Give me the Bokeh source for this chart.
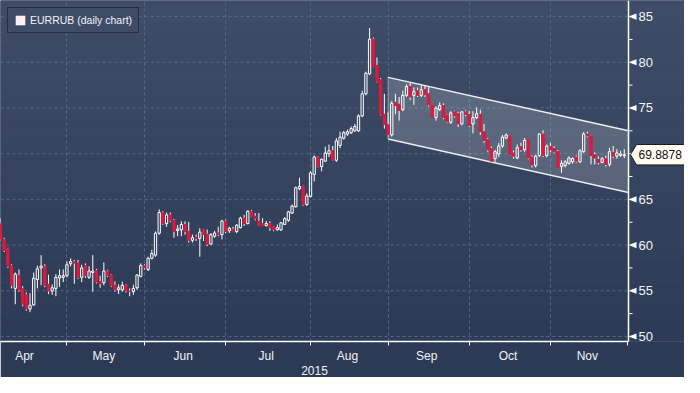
import numpy as np
from bokeh.plotting import figure
from bokeh.models import Range1d, FixedTicker, Span, Legend, LegendItem, LinearAxis
from bokeh.core.properties import value
from bokeh.embed import file_html
from bokeh.resources import INLINE

# ---------------- data (EURRUB daily candles, trading-day index 0 = 7 Apr 2015) ----------------
opens = [62.35, 60.62, 59.58, 57.75, 55.26, 56.65, 55.26, 54.57, 53.0, 53.46,
         56.23, 57.5, 57.68, 55.7, 54.98, 55.26, 56.4, 56.47, 56.65, 57.96,
         58.17, 58.03, 56.47, 57.75, 56.47, 57.0, 57.23, 56.02, 55.88, 57.16,
         56.7, 55.6, 55.12, 55.12, 55.6, 54.98, 54.91, 55.33, 56.58, 57.75,
         57.33, 58.55, 58.9, 61.3, 63.56, 62.35, 63.3, 62.7, 61.6, 61.66,
         62.25, 61.49, 60.52, 60.87, 60.73, 61.66, 61.2, 60.1, 60.97, 61.32,
         61.15, 62.63, 61.56, 61.73, 61.49, 61.9, 62.95, 62.36, 63.7, 63.15,
         62.6, 62.36, 62.12, 62.36, 62.0, 61.66, 61.66, 62.26, 62.71, 63.5,
         64.2, 66.17, 66.41, 64.44, 65.3, 67.73, 69.63, 68.59, 69.18, 69.98,
         70.32, 69.28, 70.91, 71.7, 72.15, 72.29, 72.5, 72.5, 74.13, 76.55,
         78.73, 82.53, 79.66, 78.1, 74.3, 73.16, 72.05, 75.61, 75.41, 74.82,
         76.38, 77.35, 76.38, 76.9, 76.38, 77.0, 76.55, 75.34, 73.95, 74.82,
         75.27, 74.23, 73.43, 74.58, 74.37, 73.26, 74.58, 74.3, 73.26, 73.95,
         74.3, 72.4, 71.53, 70.56, 69.46, 69.97, 70.84, 71.7, 71.95, 70.08,
         69.53, 70.77, 70.42, 71.53, 69.63, 68.7, 69.8, 72.15, 69.8, 70.77,
         70.56, 70.22, 68.59, 68.7, 68.94, 69.11, 69.63, 69.11, 70.22, 72.15,
         71.95, 69.87, 69.38, 69.04, 69.45, 68.83, 70.15, 69.73, 69.8, 69.8]
highs = [62.94, 60.8, 59.7, 57.9, 57.0, 57.33, 55.5, 54.8, 54.74, 56.99,
         57.75, 58.9, 57.9, 56.75, 55.7, 56.82, 57.33, 57.33, 58.2, 58.55,
         58.37, 58.37, 57.85, 58.0, 57.68, 58.9, 57.4, 56.65, 58.1, 57.3,
         56.8, 56.02, 55.7, 56.0, 55.7, 55.26, 55.67, 56.82, 58.0, 57.9,
         58.72, 59.48, 61.49, 63.91, 63.7, 63.56, 63.56, 62.87, 62.2, 62.6,
         62.6, 62.53, 61.15, 61.15, 61.84, 61.77, 61.7, 61.3, 61.56, 62.0,
         62.77, 62.8, 62.0, 62.0, 62.3, 63.1, 63.3, 63.8, 63.85, 63.5,
         63.5, 62.95, 62.63, 62.6, 62.1, 62.25, 62.53, 63.05, 63.75, 64.44,
         66.41, 67.38, 66.5, 65.65, 68.07, 69.8, 69.7, 69.46, 70.77, 71.0,
         70.84, 71.7, 72.4, 72.5, 72.64, 72.98, 73.26, 74.3, 76.9, 78.97,
         83.75, 82.7, 80.53, 78.28, 76.55, 74.5, 75.75, 76.55, 76.2, 76.9,
         77.59, 77.76, 77.24, 77.24, 77.48, 77.41, 77.35, 75.41, 75.17, 75.61,
         75.51, 74.3, 74.65, 74.7, 74.58, 74.65, 74.75, 74.65, 74.65, 75.06,
         74.82, 73.26, 71.7, 70.77, 70.42, 71.19, 72.05, 72.22, 72.05, 70.32,
         71.0, 71.19, 71.7, 71.6, 69.8, 69.87, 72.22, 72.57, 71.0, 71.19,
         70.8, 70.4, 69.28, 69.3, 69.7, 69.6, 69.8, 70.5, 72.35, 72.4,
         72.05, 70.15, 69.7, 69.63, 69.8, 70.66, 70.84, 70.5, 70.32, 70.5]
lows = [60.5, 59.24, 57.5, 55.26, 53.53, 54.9, 53.3, 52.8, 52.66, 53.35,
        55.26, 55.6, 55.4, 54.64, 54.57, 54.4, 55.43, 55.95, 56.47, 57.68,
        55.78, 56.3, 55.95, 56.4, 56.3, 54.9, 55.8, 55.33, 55.6, 56.5,
        55.4, 54.9, 54.64, 54.9, 54.8, 54.4, 54.57, 55.09, 56.47, 57.3,
        57.16, 58.44, 58.72, 61.14, 62.2, 62.0, 62.5, 60.8, 60.97, 60.97,
        61.15, 60.28, 60.28, 60.45, 58.72, 60.45, 59.9, 60.04, 60.8, 60.97,
        60.63, 61.3, 61.32, 61.42, 61.3, 61.84, 62.1, 62.25, 63.05, 62.7,
        62.1, 62.1, 62.05, 61.56, 61.5, 61.6, 61.56, 62.19, 62.54, 63.4,
        64.09, 66.0, 64.3, 64.27, 65.23, 66.96, 68.5, 68.07, 69.11, 69.63,
        69.2, 69.11, 70.6, 71.53, 71.95, 72.15, 72.4, 72.4, 74.0, 76.38,
        78.6, 79.5, 77.8, 74.13, 72.74, 71.88, 71.88, 74.3, 73.61, 74.65,
        76.2, 75.86, 75.34, 76.2, 76.2, 76.2, 75.17, 73.9, 73.61, 74.65,
        73.78, 73.4, 73.26, 73.95, 72.91, 73.09, 74.1, 72.91, 72.22, 73.78,
        72.05, 71.19, 70.22, 69.11, 69.11, 69.63, 70.66, 71.6, 69.8, 69.46,
        69.39, 70.22, 70.22, 69.39, 68.49, 68.49, 69.63, 69.63, 69.6, 70.15,
        70.1, 68.42, 67.9, 68.5, 68.8, 68.9, 69.0, 69.0, 70.1, 71.8,
        68.83, 68.83, 68.83, 68.94, 68.59, 68.59, 69.52, 69.45, 69.63, 69.52]
closes = [60.62, 59.41, 57.68, 55.6, 56.82, 55.09, 53.53, 53.0, 53.42, 56.37,
          57.4, 57.7, 55.6, 54.98, 55.33, 56.47, 56.65, 56.65, 57.85, 58.2,
          58.03, 56.47, 57.5, 56.65, 57.16, 57.16, 55.95, 55.78, 57.16, 56.65,
          55.54, 55.09, 55.33, 55.6, 54.98, 54.91, 55.26, 56.72, 57.75, 57.5,
          58.55, 59.07, 61.3, 63.56, 62.35, 63.3, 62.7, 61.49, 61.77, 62.25,
          61.49, 60.52, 60.8, 60.73, 61.42, 61.15, 60.1, 61.15, 61.32, 61.15,
          62.63, 61.49, 61.84, 61.49, 62.18, 62.95, 62.36, 63.7, 63.15, 62.88,
          62.18, 62.12, 62.36, 61.9, 61.66, 61.9, 62.43, 62.88, 63.64, 64.27,
          66.27, 66.41, 64.44, 65.37, 67.9, 69.63, 68.59, 69.39, 70.08, 70.32,
          69.28, 71.4, 71.81, 72.29, 72.4, 72.74, 72.98, 74.13, 76.55, 78.8,
          82.53, 79.56, 77.93, 74.23, 73.19, 72.05, 75.51, 75.27, 74.72, 76.38,
          77.35, 76.2, 76.79, 76.38, 77.0, 76.45, 75.34, 73.95, 74.99, 75.27,
          73.95, 73.54, 74.47, 74.13, 73.26, 74.58, 74.3, 73.09, 73.95, 74.37,
          72.4, 71.46, 70.42, 69.18, 70.22, 70.84, 71.81, 72.05, 69.87, 69.73,
          70.66, 70.42, 71.46, 69.53, 68.76, 69.73, 72.15, 69.8, 70.84, 70.42,
          70.22, 68.49, 68.94, 69.11, 69.53, 69.46, 69.18, 70.32, 72.15, 71.95,
          69.8, 69.52, 69.04, 69.45, 68.83, 70.22, 69.73, 70.08, 69.97, 69.8878]

months = ["Apr", "May", "Jun", "Jul", "Aug", "Sep", "Oct", "Nov"]
month_first = [-4, 18, 39, 61, 84, 105, 127, 149]   # index of first trading day
month_last = [17, 38, 60, 83, 104, 126, 148, 169]   # index of last trading day
dec_first = 170
year_label = "2015"

y_ticks = [50, 55, 60, 65, 70, 75, 80, 85]
y_minor = [52.5, 57.5, 62.5, 67.5, 72.5, 77.5, 82.5]
last_price = 69.8878
series_name = "EURRUB (daily chart)"

channel_x = [105, 170.15]
channel_top = [78.35, 72.5]
channel_bottom = [71.6, 65.75]

# ---------------- layout ----------------
W, H = 684, 377
RIGHT_PANEL = 56
AXIS_END = 170.15
Y_MIN, Y_MAX = 49.45, 86.76
ppx = (W - RIGHT_PANEL) / AXIS_END
X_END = W / ppx
FRAME_H = 334
ppy = FRAME_H / (Y_MAX - Y_MIN)

RED = "#dc1a3e"
TXT = "#f2f4f8"
GRID = "#4d6a86"
FONT = "Liberation Sans"

p = figure(width=W, height=H, output_backend="svg", toolbar_location=None,
           x_range=Range1d(0, X_END), y_range=Range1d(Y_MIN, Y_MAX),
           y_axis_location=None, min_border_left=0, min_border_right=0,
           min_border_top=0, min_border_bottom=0)
p.outline_line_color = None
p.background_fill_color = "#36445f"
p.border_fill_color = "#2c3a55"

# background gradient bands
n = 30
edges = np.linspace(Y_MIN, Y_MAX, n + 1)
c0 = np.array([0x2d, 0x3b, 0x56])
c1 = np.array([0x3f, 0x4d, 0x68])
cols = []
for k in range(n):
    t = (k + 0.5) / n
    cc = (c0 + (c1 - c0) * t).astype(int)
    cols.append("#%02x%02x%02x" % tuple(cc))
p.quad(left=0, right=X_END, bottom=edges[:-1], top=edges[1:], fill_color=cols,
       line_color=cols, line_width=1, level="image")

# grids
p.ygrid.grid_line_color = None
p.xgrid.ticker = FixedTicker(ticks=month_first[1:])
p.xgrid.grid_line_color = GRID
p.xgrid.grid_line_dash = "3 3"
p.segment(x0=0, x1=AXIS_END, y0=y_ticks, y1=y_ticks, line_color=GRID,
          line_dash="3 3", line_width=1)

# channel
p.patch(x=[channel_x[0], channel_x[1], channel_x[1], channel_x[0]],
        y=[channel_top[0], channel_top[1], channel_bottom[1], channel_bottom[0]],
        fill_color="white", fill_alpha=0.18, line_color=None)
p.segment(x0=[channel_x[0]] * 2, x1=[channel_x[1]] * 2,
          y0=[channel_top[0], channel_bottom[0]], y1=[channel_top[1], channel_bottom[1]],
          line_color="white", line_width=1.5, line_alpha=0.9)
p.segment(x0=[channel_x[0]], x1=[channel_x[0]], y0=[channel_bottom[0]], y1=[channel_top[0]],
          line_color="white", line_alpha=0.35, line_width=1)

# candles
o = np.array(opens); h = np.array(highs); l = np.array(lows); c = np.array(closes)
x = np.arange(len(o))
top = np.maximum(o, c); bot = np.minimum(o, c)
up = c >= o
dn = ~up
p.segment(x0=x, x1=x, y0=top, y1=h, line_color="white", line_width=1)
p.segment(x0=x, x1=x, y0=l, y1=bot, line_color="white", line_width=1)
p.vbar(x=x[up], width=0.62, top=top[up], bottom=bot[up], fill_alpha=0,
       line_color="white", line_width=1)
p.vbar(x=x[dn], width=0.62, top=top[dn], bottom=bot[dn], fill_color=RED,
       line_color=RED, line_width=1)

# bottom axis with month labels
centers = [(a + b) / 2 for a, b in zip(month_first, month_last)]
ax = p.xaxis[0]
ax.bounds = (0, AXIS_END)
ax.ticker = FixedTicker(ticks=centers, minor_ticks=month_first + [dec_first])
ax.major_label_overrides = {cc: m for cc, m in zip(centers, months)}
ax.axis_line_color = "white"
ax.axis_line_width = 1.5
ax.major_tick_line_color = None
ax.major_tick_in = 0
ax.major_tick_out = 0
ax.minor_tick_line_color = "white"
ax.minor_tick_in = 0
ax.minor_tick_out = 4
ax.major_label_standoff = 3
ax.major_label_text_color = TXT
ax.major_label_text_font = FONT
ax.major_label_text_font_size = "12px"

# year label: second axis below, centred under the drawn axis extent
year_pos = AXIS_END / 2
ax2 = LinearAxis(ticker=FixedTicker(ticks=[year_pos]),
                 major_label_overrides={year_pos: year_label},
                 axis_line_color=None, major_tick_line_color=None,
                 minor_tick_line_color=None, major_tick_in=0, major_tick_out=0,
                 major_label_standoff=0, major_label_text_color=TXT,
                 major_label_text_font=FONT, major_label_text_font_size="12px")
p.add_layout(ax2, "below")

# right value axis (drawn in the frame's right panel)
p.add_layout(Span(location=AXIS_END, dimension="height", line_color="white", line_width=1.5))
tw, th = 8 / ppx, 3 / ppy
p.patches(xs=[[AXIS_END, AXIS_END + tw, AXIS_END + tw] for v in y_ticks],
          ys=[[v, v + th, v - th] for v in y_ticks], fill_color="white", line_color=None)
p.segment(x0=AXIS_END, x1=AXIS_END + 4 / ppx, y0=y_minor, y1=y_minor,
          line_color="white", line_width=1)
p.text(x=[AXIS_END] * len(y_ticks), y=y_ticks, text=[str(v) for v in y_ticks],
       x_offset=10, text_baseline="middle", text_align="left", text_color=TXT,
       text_font=value(FONT), text_font_size=value("13px"))

# last-price callout
hh = 10 / ppy
p.patch(x=[AXIS_END + 2 / ppx, AXIS_END + 8 / ppx, X_END + 1, X_END + 1, AXIS_END + 8 / ppx],
        y=[last_price, last_price + hh, last_price + hh, last_price - hh, last_price - hh],
        fill_color="#fffcf3", line_color="#1a1a1a", line_width=1)
p.text(x=[AXIS_END], y=[last_price], text=["%.4f" % last_price], x_offset=10,
       text_baseline="middle", text_align="left", text_color="#111111",
       text_font=value(FONT), text_font_size=value("12px"))

# legend
dummy = p.quad(left=[np.nan], right=[np.nan], top=[np.nan], bottom=[np.nan],
               fill_color="#fff1ee", line_color=None)
legend = Legend(items=[LegendItem(label=series_name, renderers=[dummy])],
                location="top_left", margin=7, padding=6, spacing=0,
                glyph_width=12, glyph_height=12, label_height=12, label_standoff=4,
                label_text_color=TXT, label_text_font=FONT, label_text_font_size="10.5px",
                border_line_color="#0c0f18", border_line_width=1,
                background_fill_color="#3e4c67", background_fill_alpha=1)
p.add_layout(legend)

open("out.html", "w").write(file_html(p, INLINE))
